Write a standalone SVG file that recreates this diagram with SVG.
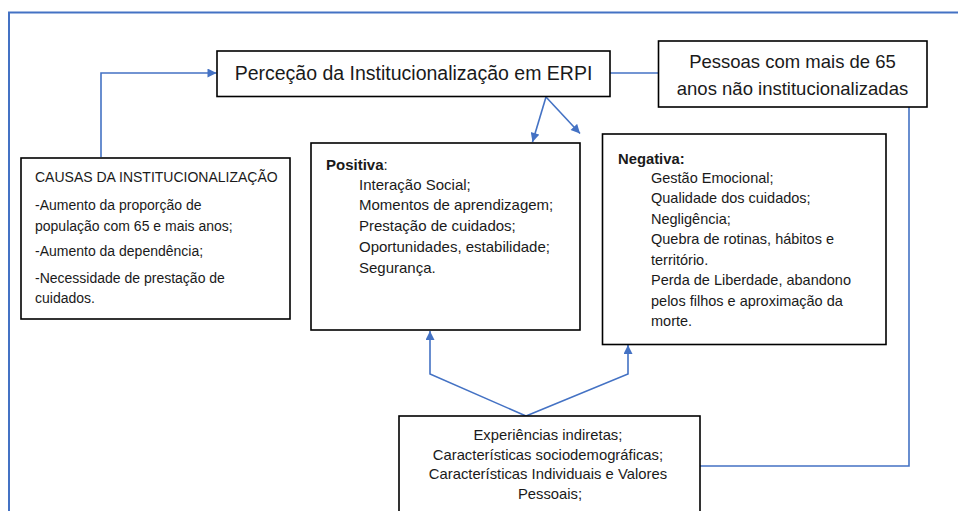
<svg xmlns="http://www.w3.org/2000/svg" width="958" height="511" viewBox="0 0 958 511">
<style>
  .box { fill: #ffffff; stroke: #000000; stroke-width: 1.6; }
  .t { font-family: "Liberation Sans", Arial, sans-serif; fill: #1a1a1a; }
  .c { text-anchor: middle; }
  .b { font-weight: bold; }
  .conn { fill: none; stroke: #4472C4; stroke-width: 1.6; }
</style>
<defs>
  <marker id="ah" viewBox="0 0 10 10" refX="10" refY="5" markerWidth="10" markerHeight="9" markerUnits="userSpaceOnUse" orient="auto">
    <path d="M0,0 L10,5 L0,10 Z" fill="#4472C4"/>
  </marker>
</defs>
<rect width="958" height="511" fill="#ffffff"/>

<g id="frame">
  <path d="M9,515 V12.5 H960" fill="none" stroke="#4472C4" stroke-width="2"/>
</g>

<g id="connectors">
  <path class="conn" d="M101,157 V73 H216.5" marker-end="url(#ah)"/>
  <path class="conn" d="M610,73 H658.5"/>
  <path class="conn" d="M546,97 L532.5,142" marker-end="url(#ah)"/>
  <path class="conn" d="M546,97 L580,133.5" marker-end="url(#ah)"/>
  <path class="conn" d="M909,107 V466 H700"/>
  <path class="conn" d="M526,416 L430,374 V331" marker-end="url(#ah)"/>
  <path class="conn" d="M526,416 L628,374 V345" marker-end="url(#ah)"/>
</g>

<g id="titulo">
  <rect class="box" x="217" y="51" width="393" height="45.5"/>
  <text class="t c" x="413.5" y="80" font-size="19.5">Perceção da Institucionalização em ERPI</text>
</g>

<g id="pessoas">
  <rect class="box" x="658.5" y="41" width="268.5" height="66"/>
  <text class="t c" x="792.5" y="67.5" font-size="18.5">Pessoas com mais de 65</text>
  <text class="t c" x="792.5" y="94.5" font-size="18.5">anos não institucionalizadas</text>
</g>

<g id="causas">
  <rect class="box" x="21" y="158" width="269" height="161" stroke-width="2"/>
  <text class="t" font-size="14" x="35">
    <tspan x="35" y="182">CAUSAS DA INSTITUCIONALIZAÇÃO</tspan>
    <tspan x="35" y="209.5">-Aumento da proporção de</tspan>
    <tspan x="35" y="231">população com 65 e mais anos;</tspan>
    <tspan x="35" y="255.5">-Aumento da dependência;</tspan>
    <tspan x="35" y="282.5">-Necessidade de prestação de</tspan>
    <tspan x="35" y="303">cuidados.</tspan>
  </text>
</g>

<g id="positiva">
  <rect class="box" x="311" y="143" width="269" height="187"/>
  <text class="t" font-size="15" x="326" y="169.5"><tspan class="b">Positiva</tspan>:</text>
  <text class="t" font-size="15">
    <tspan x="359" y="189.5">Interação Social;</tspan>
    <tspan x="359" y="210.3">Momentos de aprendizagem;</tspan>
    <tspan x="359" y="231.1">Prestação de cuidados;</tspan>
    <tspan x="359" y="251.9">Oportunidades, estabilidade;</tspan>
    <tspan x="359" y="272.7">Segurança.</tspan>
  </text>
</g>

<g id="negativa">
  <rect class="box" x="602.5" y="134" width="283.5" height="210.5"/>
  <text class="t b" font-size="14.8" x="618" y="164">Negativa:</text>
  <text class="t" font-size="14.5">
    <tspan x="651" y="182.5">Gestão Emocional;</tspan>
    <tspan x="651" y="203">Qualidade dos cuidados;</tspan>
    <tspan x="651" y="223.5">Negligência;</tspan>
    <tspan x="651" y="244">Quebra de rotinas, hábitos e</tspan>
    <tspan x="651" y="264.5">território.</tspan>
    <tspan x="651" y="285">Perda de Liberdade, abandono</tspan>
    <tspan x="651" y="305.5">pelos filhos e aproximação da</tspan>
    <tspan x="651" y="326">morte.</tspan>
  </text>
</g>

<g id="experiencias">
  <rect class="box" x="399" y="416" width="301" height="110"/>
  <text class="t c" font-size="14.8">
    <tspan x="550" y="440">Experiências indiretas;</tspan>
    <tspan x="550" y="459.5">Características sociodemográficas;</tspan>
    <tspan x="550" y="479">Características Individuais e Valores</tspan>
    <tspan x="550" y="498.5">Pessoais;</tspan>
  </text>
</g>
</svg>
